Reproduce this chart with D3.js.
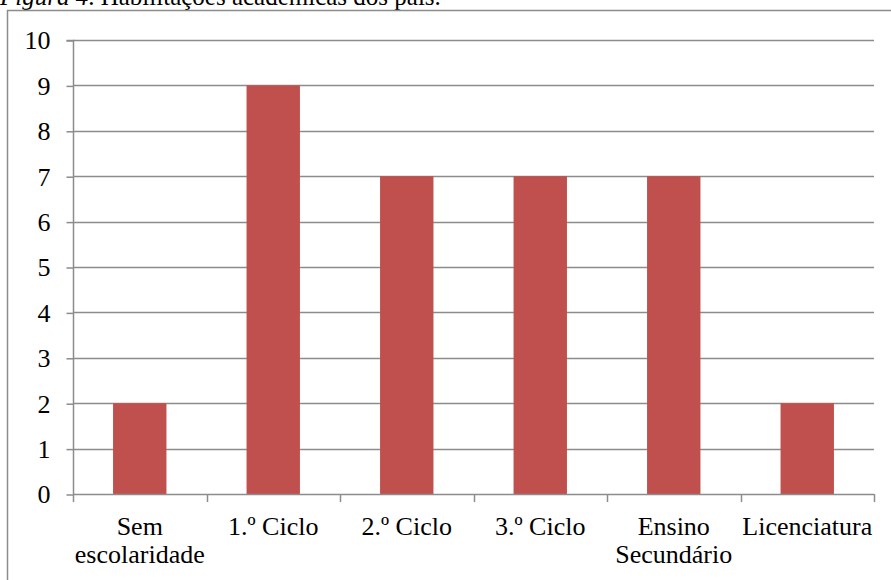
<!DOCTYPE html>
<html>
<head>
<meta charset="utf-8">
<script src="https://cdn.jsdelivr.net/npm/d3@7"></script>
<style>
  html, body { margin: 0; padding: 0; background: #fff; }
  svg { display: block; }
  text { font-family: "Liberation Serif", "Times New Roman", serif; fill: #000; }
</style>
</head>
<body>
<svg id="chart" width="891" height="580"></svg>
<script>
// Habilitações académicas dos pais
const categories = [["Sem", "escolaridade"], ["1.º Ciclo"], ["2.º Ciclo"], ["3.º Ciclo"], ["Ensino", "Secundário"], ["Licenciatura"]];
const values = [2, 9, 7, 7, 7, 2];
const yTicks = [0, 1, 2, 3, 4, 5, 6, 7, 8, 9, 10];

const svg = d3.select("#chart");
const W = 891, H = 580;
const margin = { left: 73, right: 17, top: 40, bottom: 86 };
const FONT = "26px";
const GRID = "#8c8c8c";

// Caption above the frame (its upper part runs past the top edge)
const cap = svg.append("text").attr("x", 0).attr("y", 5).style("font-size", "25px");
cap.append("tspan").style("font-style", "italic").text("Figura 4");
cap.append("tspan").text(". Habilitações académicas dos pais.");

// Chart frame
svg.append("rect")
  .attr("x", 7.5).attr("y", 10.5)
  .attr("width", 900).attr("height", 600)
  .attr("fill", "none").attr("stroke", GRID).attr("stroke-width", 1.5);

const x = d3.scaleBand()
  .domain(d3.range(categories.length))
  .range([margin.left, W - margin.right])
  .paddingInner(0.6).paddingOuter(0.3);

const y = d3.scaleLinear().domain([0, 10]).range([H - margin.bottom, margin.top]);

// Horizontal gridlines
svg.append("g").selectAll("line").data(yTicks.filter(d => d > 0)).join("line")
  .attr("x1", margin.left).attr("x2", W - margin.right)
  .attr("y1", d => Math.round(y(d)) + 0.5).attr("y2", d => Math.round(y(d)) + 0.5)
  .attr("stroke", GRID).attr("stroke-width", 1.5);

// Bars
svg.append("g").selectAll("rect").data(values).join("rect")
  .attr("x", (d, i) => x(i))
  .attr("width", x.bandwidth())
  .attr("y", d => y(d))
  .attr("height", d => y(0) - y(d))
  .attr("fill", "#c0504d");

// Y axis
const yAxis = d3.axisLeft(y).tickValues(yTicks).tickSize(7).tickPadding(16);
const gy = svg.append("g").attr("transform", `translate(${margin.left + 0.5},0.5)`).call(yAxis);
gy.attr("font-family", null).attr("font-size", null);
gy.selectAll("path,line").attr("stroke", GRID).attr("stroke-width", 1.5);
gy.select(".domain").attr("d", `M-7,${y(10)}H0V${y(0)}`);
gy.selectAll("text").style("font-size", FONT).attr("fill", "#000");

// X axis: ticks at category boundaries
const bounds = d3.range(categories.length + 1).map(i => margin.left + i * (W - margin.left - margin.right) / categories.length);
const gx = svg.append("g");
gx.append("line")
  .attr("x1", margin.left).attr("x2", W - margin.right)
  .attr("y1", y(0) + 0.5).attr("y2", y(0) + 0.5)
  .attr("stroke", GRID).attr("stroke-width", 1.5);
gx.selectAll("line.tick").data(bounds).join("line").attr("class", "tick")
  .attr("x1", d => Math.round(d) + 0.5).attr("x2", d => Math.round(d) + 0.5)
  .attr("y1", y(0)).attr("y2", y(0) + 8)
  .attr("stroke", GRID).attr("stroke-width", 1.5);

// Category labels
const labels = gx.selectAll("text.cat").data(categories).join("text").attr("class", "cat")
  .attr("text-anchor", "middle").style("font-size", FONT);
labels.each(function(lines, i) {
  const t = d3.select(this);
  lines.forEach((ln, k) => {
    t.append("tspan")
      .attr("x", x(i) + x.bandwidth() / 2)
      .attr("y", 535 + k * 28)
      .text(ln);
  });
});
</script>
</body>
</html>
